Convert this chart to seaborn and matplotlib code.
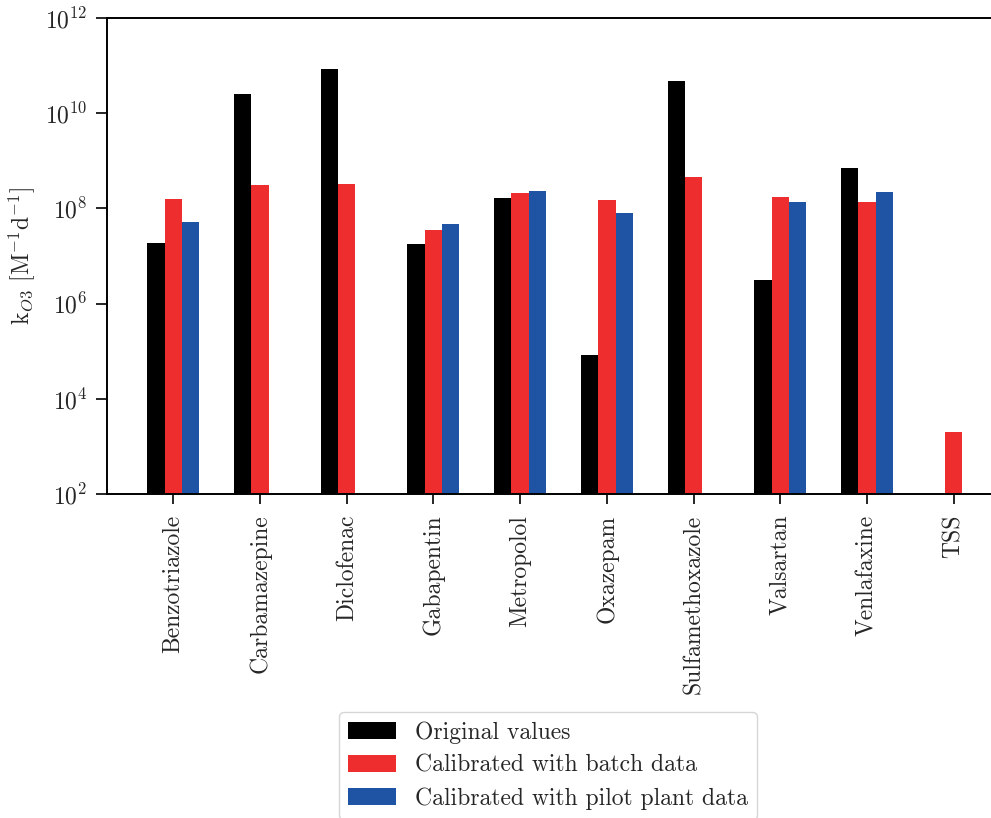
import numpy as np
import pandas as pd
import seaborn as sns
import matplotlib
matplotlib.use("Agg")
import matplotlib.pyplot as plt

# Ozone rate constants per compound
compounds = ["Benzotriazole", "Carbamazepine", "Diclofenac", "Gabapentin",
             "Metropolol", "Oxazepam", "Sulfamethoxazole", "Valsartan",
             "Venlafaxine", "TSS"]
original = [1.9e7, 2.5e10, 8.5e10, 1.8e7, 1.66e8, 8.5e4, 4.75e10, 3.1e6, 6.9e8, np.nan]
batch = [1.6e8, 3.1e8, 3.3e8, 3.6e7, 2.1e8, 1.48e8, 4.5e8, 1.74e8, 1.38e8, 2.0e3]
pilot = [5.3e7, np.nan, np.nan, 4.8e7, 2.3e8, 8.1e7, np.nan, 1.38e8, 2.2e8, np.nan]

series_names = ["Original values", "Calibrated with batch data",
                "Calibrated with pilot plant data"]
colors = ["#000000", "#ED2D2E", "#1F54A5"]

df = pd.DataFrame({
    "compound": compounds * 3,
    "series": np.repeat(series_names, len(compounds)),
    "value": original + batch + pilot,
})

sns.set_style("ticks")
plt.rcParams["font.family"] = ["cmr10", "DejaVu Serif"]
plt.rcParams["mathtext.fontset"] = "cm"
plt.rcParams["axes.formatter.use_mathtext"] = True
plt.rcParams["axes.unicode_minus"] = False

fig = plt.figure(figsize=(9.91, 8.18), dpi=100)
ax = fig.add_axes([107 / 991, 1 - 494 / 818, 884 / 991, 476 / 818])

sns.barplot(data=df, x="compound", y="value", hue="series",
            hue_order=series_names, palette=colors, saturation=1, width=0.6,
            errorbar=None, linewidth=0, log_scale=True, ax=ax)

ax.set_yscale("log")
ax.set_ylim(1e2, 1e12)
ax.set_yticks([1e2, 1e4, 1e6, 1e8, 1e10, 1e12])
ax.yaxis.set_minor_locator(matplotlib.ticker.NullLocator())
ax.set_xlim(-0.765, 9.43)

ax.set_xlabel("")
ax.set_ylabel(r"k$_{O3}$ [M$^{-1}$d$^{-1}$]", fontsize=17, labelpad=6)
ax.tick_params(axis="x", labelrotation=90, labelsize=17, length=7, width=1.4, pad=8)
ax.tick_params(axis="y", labelsize=17, length=8, width=1.4, pad=6)

for s in ["left", "bottom", "top"]:
    ax.spines[s].set_linewidth(1.4)
    ax.spines[s].set_color("black")
ax.spines["right"].set_visible(False)
ax.spines["top"].set_visible(True)

ax.legend_.remove()
handles = [matplotlib.patches.Patch(facecolor=c, edgecolor="none") for c in colors]
fig.legend(handles, series_names, loc="upper center",
           bbox_to_anchor=(548 / 991, 1 - 712 / 818), fontsize=17,
           frameon=True, fancybox=True, edgecolor="#cccccc",
           handlelength=2.0, handleheight=0.72, handletextpad=0.8,
           labelspacing=0.45, borderpad=0.4, borderaxespad=0)

fig.savefig("out.png", dpi=100)
